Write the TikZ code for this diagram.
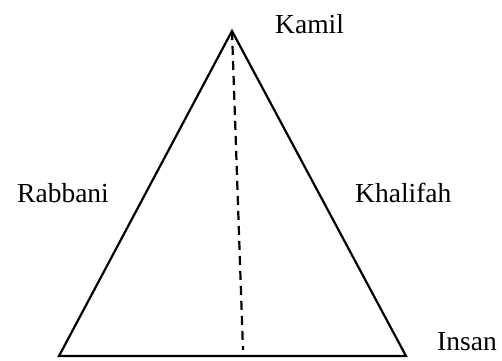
\documentclass[tikz,border=0pt]{standalone}
\usepackage{fontspec}
\setmainfont{Liberation Serif}
\begin{document}
\begin{tikzpicture}[x=1pt,y=1pt,
  lbl/.style={anchor=base west,inner sep=0pt,font=\fontsize{27.5}{30}\selectfont},
  edge/.style={line width=2.2pt,line join=miter},
  axis/.style={line width=2.2pt,dash pattern=on 9pt off 6pt}]
\useasboundingbox (0,0) rectangle (502,360);
\coordinate (apex) at (232,329);
\coordinate (bl) at (59,4);
\coordinate (br) at (406,4);
\coordinate (foot) at (243,10);
\draw[edge] (apex) -- (bl) -- (br) -- cycle;
\draw[axis] (apex) -- (foot);
\node[lbl] (kamil) at (275,327) {Kamil};
\node[lbl] (rabbani) at (17,158) {Rabbani};
\node[lbl] (khalifah) at (355,158) {Khalifah};
\node[lbl] (insan) at (437,10) {Insan};
\end{tikzpicture}
\end{document}
